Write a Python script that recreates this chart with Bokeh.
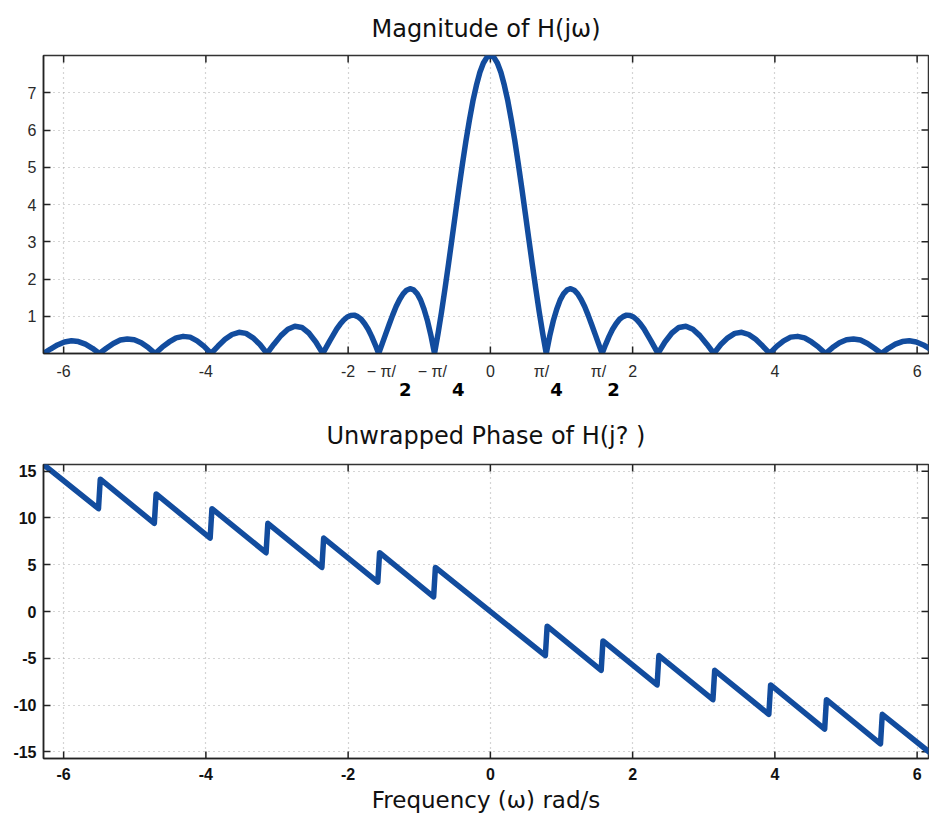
from bokeh.plotting import figure
from bokeh.layouts import column
from bokeh.models import Range1d, LinearAxis, FixedTicker
from bokeh.embed import file_html
from bokeh.resources import INLINE

# ---- data ----
# magnitude |H(jw)| for w >= 0 (mirror-symmetric about w = 0)
freq_pos = [0.0, 0.0491, 0.0982, 0.1473, 0.1963, 0.2454, 0.2945, 0.3436, 0.3927,
            0.4418, 0.4909, 0.5400, 0.5890, 0.6381, 0.6872, 0.7363, 0.7854,
            0.8345, 0.8836, 0.9327, 0.9817, 1.0308, 1.0799, 1.1290, 1.1781,
            1.2272, 1.2763, 1.3254, 1.3744, 1.4235, 1.4726, 1.5217, 1.5708,
            1.6199, 1.6690, 1.7181, 1.7671, 1.8162, 1.8653, 1.9144, 1.9635,
            2.0126, 2.0617, 2.1108, 2.1598, 2.2089, 2.2580, 2.3071, 2.3562,
            2.4544, 2.5525, 2.6507, 2.7489, 2.8471, 2.9452, 3.0434, 3.1416,
            3.2398, 3.3379, 3.4361, 3.5343, 3.6325, 3.7306, 3.8288, 3.9270,
            4.0252, 4.1233, 4.2215, 4.3197, 4.4179, 4.5160, 4.6142, 4.7124,
            4.8106, 4.9087, 5.0069, 5.1051, 5.2033, 5.3014, 5.3996, 5.4978,
            5.5960, 5.6941, 5.7923, 5.8905, 5.9887, 6.0868, 6.1850, 6.2832]
mag_pos = [8.00, 7.95, 7.80, 7.55, 7.20, 6.78, 6.27, 5.71, 5.09,
           4.44, 3.76, 3.08, 2.40, 1.74, 1.11, 0.53, 0.0,
           0.47, 0.87, 1.19, 1.44, 1.61, 1.71, 1.74, 1.70,
           1.60, 1.45, 1.26, 1.03, 0.78, 0.52, 0.26, 0.0,
           0.24, 0.46, 0.65, 0.80, 0.92, 0.99, 1.03, 1.02,
           0.98, 0.90, 0.79, 0.66, 0.50, 0.34, 0.17, 0.0,
           0.31, 0.55, 0.70, 0.73, 0.65, 0.48, 0.25, 0.0,
           0.24, 0.42, 0.54, 0.57, 0.51, 0.38, 0.20, 0.0,
           0.19, 0.34, 0.44, 0.46, 0.42, 0.31, 0.17, 0.0,
           0.16, 0.29, 0.37, 0.39, 0.36, 0.27, 0.14, 0.0,
           0.14, 0.25, 0.32, 0.34, 0.31, 0.23, 0.12, 0.0]

# unwrapped phase (vertices of the saw-tooth)
phase_freq = [-6.2832, -5.510, -5.485, -4.725, -4.700, -3.940, -3.915, -3.154, -3.129,
              -2.369, -2.344, -1.583, -1.558, -0.798, -0.773,
              0.773, 0.798, 1.558, 1.583, 2.344, 2.369, 3.129, 3.154,
              3.915, 3.940, 4.700, 4.725, 5.485, 5.510, 6.2832]
phase_vals = [15.71, 10.99, 14.14, 9.42, 12.57, 7.85, 10.99, 6.28, 9.42,
              4.71, 7.85, 3.14, 6.28, 1.57, 4.71,
              -4.71, -1.57, -6.28, -3.14, -7.85, -4.71, -9.42, -6.28,
              -10.99, -7.85, -12.57, -9.42, -14.14, -10.99, -15.71]

x_ticks = [-6, -4, -2, 0, 2, 4, 6]
mag_yticks = [1, 2, 3, 4, 5, 6, 7]
phase_yticks = [-15, -10, -5, 0, 5, 10, 15]

mag_title = "Magnitude of H(jω)"
phase_title = "Unwrapped Phase of H(j? )"
x_label = "Frequency (ω) rad/s"

# hand-written notes under the magnitude axis
pi_marks = ["\u2212 \u03c0/", "\u2212 \u03c0/", "\u03c0/", "\u03c0/"]
pi_denoms = ["2", "4", "4", "2"]

freq = [-f for f in reversed(freq_pos[1:])] + freq_pos
mag = list(reversed(mag_pos[1:])) + mag_pos

LINE = "#124c9e"
FONT = "Liberation Sans"
TFONT = "DejaVu Sans"
AX = "#222222"
X0, X1 = -6.2832, 6.16   # the scan crops the right end of the axis


def plain(ticks):
    return {t: str(t) for t in ticks}


def base(height, y0, y1, yticks, top, bottom, title, standoff, bold_ticks, extra=None):
    p = figure(width=929, height=height, output_backend="svg", toolbar_location=None,
               x_range=Range1d(X0, X1), y_range=Range1d(y0, y1),
               min_border_left=43, min_border_right=1,
               min_border_top=top, min_border_bottom=bottom)
    p.title.text = title
    p.title.text_font = TFONT
    p.title.text_font_size = "24px"
    p.title.text_font_style = "normal"
    p.title.align = "center"
    p.title.text_color = "#111111"
    p.title.standoff = standoff
    p.background_fill_color = "white"
    p.border_fill_color = "white"
    p.outline_line_color = "#333333"
    p.outline_line_width = 1.5

    xa = p.xaxis[0]
    ya = p.yaxis[0]
    xt = list(x_ticks)
    xo = plain(x_ticks)
    if extra:
        for t, x in extra:
            xt.append(x)
            xo[x] = t
    xa.ticker = FixedTicker(ticks=xt)
    xa.major_label_overrides = xo
    ya.ticker = FixedTicker(ticks=yticks)
    ya.major_label_overrides = plain(yticks)
    for ax in (xa, ya):
        ax.major_tick_in = 7
        ax.major_tick_out = 0
        ax.minor_tick_in = 0
        ax.minor_tick_out = 0
        ax.axis_line_color = AX
        ax.axis_line_width = 1.5
        ax.major_tick_line_color = AX
        ax.major_tick_line_width = 1.5
        ax.major_label_text_font = FONT
        ax.major_label_text_font_size = "16px"
        ax.major_label_text_color = "#111111" if bold_ticks else "#2a2a2a"
        ax.major_label_text_font_style = "bold" if bold_ticks else "normal"
    xa.major_tick_line_color = None  # x ticks drawn below as rays
    xa.major_label_standoff = 9
    ya.major_label_standoff = 7
    for grid in (p.xgrid[0], p.ygrid[0]):
        grid.grid_line_color = "#aaaaaa"
        grid.grid_line_dash = "1 4"
        grid.grid_line_width = 1.2
    p.xgrid.ticker = FixedTicker(ticks=x_ticks)
    p.ygrid.ticker = FixedTicker(ticks=yticks)

    # inward tick marks on all four sides of the box
    p.ray(x=x_ticks, y=[y0] * len(x_ticks), length=7, length_units="screen",
          angle=90, angle_units="deg", line_color=AX, line_width=1.5)
    p.ray(x=x_ticks, y=[y1] * len(x_ticks), length=7, length_units="screen",
          angle=-90, angle_units="deg", line_color=AX, line_width=1.5)
    p.ray(x=[X1] * len(yticks), y=yticks, length=7, length_units="screen",
          angle=180, angle_units="deg", line_color=AX, line_width=1.5)
    return p


mark_x = [-1.534, -0.816, 0.718, 1.520]
denom_x = [-1.196, -0.450, 0.929, 1.731]

p1 = base(405, 0, 8, mag_yticks, 55, 52, mag_title, 25, False,
          extra=list(zip(pi_marks, mark_x)))
p1.line(freq, mag, line_color=LINE, line_width=5.5, line_join="round", line_cap="round")

denom_axis = LinearAxis(ticker=FixedTicker(ticks=denom_x),
                        major_label_overrides=dict(zip(denom_x, pi_denoms)),
                        axis_line_color=None, major_tick_line_color=None,
                        minor_tick_line_color=None, major_label_standoff=-6,
                        major_label_text_font=TFONT, major_label_text_font_size="18px",
                        major_label_text_font_style="bold", major_label_text_color="#000000")
p1.add_layout(denom_axis, "below")

p2 = base(412, -15.71, 15.71, phase_yticks, 58, 59, phase_title, 29, True)
p2.line(phase_freq, phase_vals, line_color=LINE, line_width=5.5, line_join="round", line_cap="round")
bx = p2.below[0]
bx.axis_label = x_label
bx.axis_label_text_font = TFONT
bx.axis_label_text_font_size = "23px"
bx.axis_label_text_font_style = "normal"
bx.axis_label_text_color = "#111111"
bx.axis_label_standoff = 4

layout = column(p1, p2, spacing=0)
open("out.html", "w").write(file_html(layout, INLINE))
